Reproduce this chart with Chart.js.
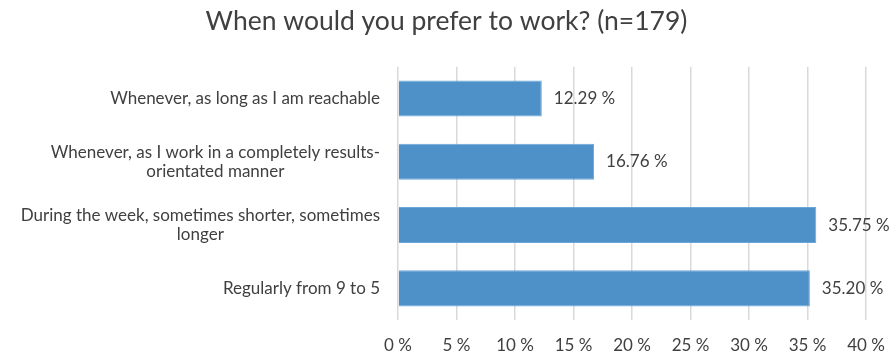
<!DOCTYPE html>
<html>
<head>
<meta charset="utf-8">
<script src="https://cdn.jsdelivr.net/npm/chart.js@4"></script>
<style>
  html, body { margin: 0; padding: 0; background: #fff; overflow: hidden; }
</style>
</head>
<body>
<canvas id="myChart" width="893" height="354"></canvas>
<script>
// data
const categories = [
    ['Whenever, as long as I am reachable'],
    ['Whenever, as I work in a completely results-', 'orientated manner'],
    ['During the week, sometimes shorter, sometimes', 'longer'],
    ['Regularly from 9 to 5']
];
const shares = [12.29, 16.76, 35.75, 35.20];
const xTicks = [0, 5, 10, 15, 20, 25, 30, 35, 40];

const FONT = 'Lato, "Open Sans", sans-serif';
const TEXT = '#404040';
const SIZE = 17;

// bar value labels + multi-line category labels
const labelPlugin = {
    id: 'labels',
    afterDatasetsDraw: function (chart) {
        const c = chart.ctx;
        const meta = chart.getDatasetMeta(0);
        const y = chart.scales.y;
        c.save();
        c.fillStyle = TEXT;
        c.font = SIZE + 'px ' + FONT;
        c.textBaseline = 'middle';
        meta.data.forEach(function (bar, i) {
            c.textAlign = 'left';
            c.fillText(shares[i].toFixed(2) + ' %', bar.x + 12, bar.y);
        });
        categories.forEach(function (lines, i) {
            const cy = y.getPixelForValue(i);
            const lh = 19;
            const widths = lines.map(function (l) { return c.measureText(l).width; });
            const maxW = Math.max.apply(null, widths);
            const right = chart.chartArea.left - 18;
            const center = right - maxW / 2;
            const top = cy - (lines.length - 1) * lh / 2;
            c.textAlign = 'center';
            lines.forEach(function (l, j) {
                c.fillText(l, center, top + j * lh);
            });
        });
        c.restore();
    }
};

const ctx = document.getElementById('myChart').getContext('2d');

new Chart(ctx, {
    type: 'bar',
    data: {
        labels: categories,
        datasets: [{
            data: shares,
            backgroundColor: '#4e91c9',
            borderColor: '#6aa6d8',
            borderWidth: 1,
            categoryPercentage: 1,
            barPercentage: 0.57
        }]
    },
    options: {
        indexAxis: 'y',
        responsive: false,
        animation: false,
        layout: {
            padding: 0
        },
        plugins: {
            legend: { display: false },
            tooltip: { enabled: false },
            title: {
                display: true,
                text: 'When would you prefer to work? (n=179)',
                color: TEXT,
                font: { family: FONT, size: 26.5, weight: 'normal' },
                padding: { top: 6, bottom: 29 }
            }
        },
        scales: {
            x: {
                min: 0,
                max: 40,
                afterBuildTicks: function (axis) {
                    axis.ticks = xTicks.map(function (v) { return { value: v }; });
                },
                grid: { color: '#d9d9d9', lineWidth: 1.5, drawTicks: false },
                border: { display: false },
                ticks: {
                    color: TEXT,
                    font: { family: FONT, size: SIZE },
                    padding: 15,
                    maxRotation: 0,
                    callback: function (v) { return v + ' %'; }
                },
                afterFit: function (axis) {
                    axis.height = 34;
                    axis.paddingLeft = 0;
                    axis.paddingRight = 27;
                }
            },
            y: {
                grid: { display: false },
                border: { display: false },
                ticks: { display: false },
                afterFit: function (axis) { axis.width = 398; }
            }
        }
    },
    plugins: [labelPlugin]
});
</script>
</body>
</html>
